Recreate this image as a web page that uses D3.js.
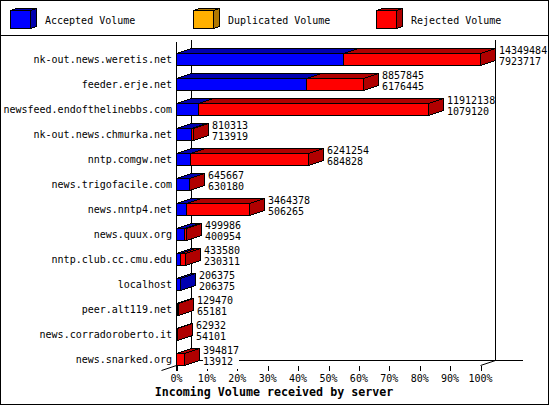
<!DOCTYPE html>
<html>
<head>
<meta charset="utf-8">
<script src="https://cdn.jsdelivr.net/npm/d3@7"></script>
<style>
html, body { margin: 0; padding: 0; background: #fff; }
svg { display: block; }
text { font-family: "DejaVu Sans Mono", "Liberation Mono", monospace; font-size: 10px; fill: #000; }
.title { font-size: 11.67px; font-weight: bold; }
</style>
</head>
<body>
<svg id="graph" width="550" height="405"></svg>
<script>
var servers = [
  "nk-out.news.weretis.net",
  "feeder.erje.net",
  "newsfeed.endofthelinebbs.com",
  "nk-out.news.chmurka.net",
  "nntp.comgw.net",
  "news.trigofacile.com",
  "news.nntp4.net",
  "news.quux.org",
  "nntp.club.cc.cmu.edu",
  "localhost",
  "peer.alt119.net",
  "news.corradoroberto.it",
  "news.snarked.org",
];
var total_volume = [14349484, 8857845, 11912138, 810313, 6241254, 645667, 3464378, 499986, 433580, 206375, 129470, 62932, 394817];
var accepted_volume = [7923717, 6176445, 1079120, 713919, 684828, 630180, 506265, 400954, 230311, 206375, 65181, 54101, 13912];
var percent_ticks = [0, 10, 20, 30, 40, 50, 60, 70, 80, 90, 100];
var legend_names = ["Accepted Volume", "Duplicated Volume", "Rejected Volume"];
var title = "Incoming Volume received by server";

var front = { blue: "#0000ff", orange: "#ffb000", red: "#ff0000" };
var dark = { blue: "#0000b0", orange: "#b07800", red: "#b00000" };
var legend_colors = ["blue", "orange", "red"];

var depthX = 15,
  depthY = 5,
  barH = 12;

var graph = d3.select("#graph").attr("shape-rendering", "crispEdges");

// x is a share of the biggest server
var maxVolume = d3.max(total_volume);
var x = d3.scaleLinear().domain([0, maxVolume]).range([176, 480]);
var pct = d3.scaleLinear().domain([0, 100]).range([176.5, 480.5]);
var y = d3.scaleBand().domain(servers).range([48, 373]).align(0);

function snap(v) {
  return Math.floor(v) + 0.5;
}

// frame and legend strip
graph.append("rect").attr("x", 0.5).attr("y", 0.5).attr("width", 548).attr("height", 403.5)
  .attr("fill", "#fff").attr("stroke", "#000");
graph.append("line").attr("x1", 0).attr("x2", 549).attr("y1", 35.5).attr("y2", 35.5).attr("stroke", "#000");

// draws one 3d block, front face from x0 to x1 with its top at yTop
function block(g, x0, x1, yTop, h, dx, dy, col) {
  g.append("polygon")
    .attr("points", [[x0, yTop], [x0 + dx, yTop - dy], [x1 + dx, yTop - dy], [x1, yTop]].join(" "))
    .attr("fill", dark[col]).attr("stroke", "#000");
  g.append("polygon")
    .attr("points", [[x1, yTop], [x1 + dx, yTop - dy], [x1 + dx, yTop + h - dy], [x1, yTop + h]].join(" "))
    .attr("fill", dark[col]).attr("stroke", "#000");
  g.append("rect").attr("x", x0).attr("y", yTop).attr("width", x1 - x0).attr("height", h)
    .attr("fill", front[col]).attr("stroke", "#000");
}

var legendX = [10.5, 193.5, 376.5];
var legendTextX = [45, 228, 411];
legend_names.forEach(function (name, i) {
  var g = graph.append("g");
  block(g, legendX[i], legendX[i] + 20, 10.5, 18, 6, 2, legend_colors[i]);
  g.append("text").attr("x", legendTextX[i]).attr("y", 23.5).text(name);
});

// back walls and floor
var yFloor = 365.5;
var axes = graph.append("g").attr("stroke", "#000");
axes.append("line").attr("x1", 176.5).attr("x2", 176.5).attr("y1", 42).attr("y2", yFloor + 5);
axes.append("line").attr("x1", 191.5).attr("x2", 191.5).attr("y1", 40).attr("y2", yFloor - depthY);
axes.append("line").attr("x1", 495.5).attr("x2", 495.5).attr("y1", 40).attr("y2", yFloor - depthY);
axes.append("line").attr("x1", 191.5).attr("x2", 523).attr("y1", yFloor - depthY).attr("y2", yFloor - depthY);
axes.append("line").attr("x1", 161.5).attr("x2", 191.5).attr("y1", yFloor + depthY).attr("y2", yFloor - depthY)
  .attr("shape-rendering", "auto");
axes.append("line").attr("x1", 480.5).attr("x2", 495.5).attr("y1", yFloor).attr("y2", yFloor - depthY)
  .attr("shape-rendering", "auto");

// ticks
var xAxis = d3.axisBottom(pct).tickValues(percent_ticks).tickSize(5).tickSizeOuter(0)
  .tickFormat(function (d) { return d + "%"; });
var axisG = graph.append("g").attr("transform", "translate(0," + yFloor + ")").call(xAxis);
axisG.select(".domain").remove();
axisG.selectAll("text").attr("dy", null).attr("x", -0.5).attr("y", 16.5).attr("font-family", null).attr("font-size", null);

// bars, top row first
servers.forEach(function (name, i) {
  var g = graph.append("g");
  var top = snap(y(name) + depthY);
  var xA = snap(x(accepted_volume[i]));
  var xT = snap(x(total_volume[i]));
  var x0 = 176.5;

  g.append("text").attr("x", 172).attr("y", top + 9).attr("text-anchor", "end").text(name);

  if (accepted_volume[i] > 0) block(g, x0, xA, top, barH, depthX, depthY, "blue");
  if (total_volume[i] > accepted_volume[i]) block(g, xA, xT, top, barH, depthX, depthY, "red");

  // value labels sit on a white patch, the wall line breaks behind them
  var lx = xT + depthX + 3.5;
  var w = String(total_volume[i]).length * 6;
  g.append("rect").attr("x", lx).attr("y", top - 8).attr("width", w).attr("height", 23).attr("fill", "#fff");
  g.append("text").attr("x", lx).attr("y", top + 0.5).text(total_volume[i]);
  g.append("text").attr("x", lx).attr("y", top + 11.5).text(accepted_volume[i]);
});

graph.append("text").attr("class", "title").attr("x", 274).attr("y", 396).attr("text-anchor", "middle").text(title);
</script>
</body>
</html>
